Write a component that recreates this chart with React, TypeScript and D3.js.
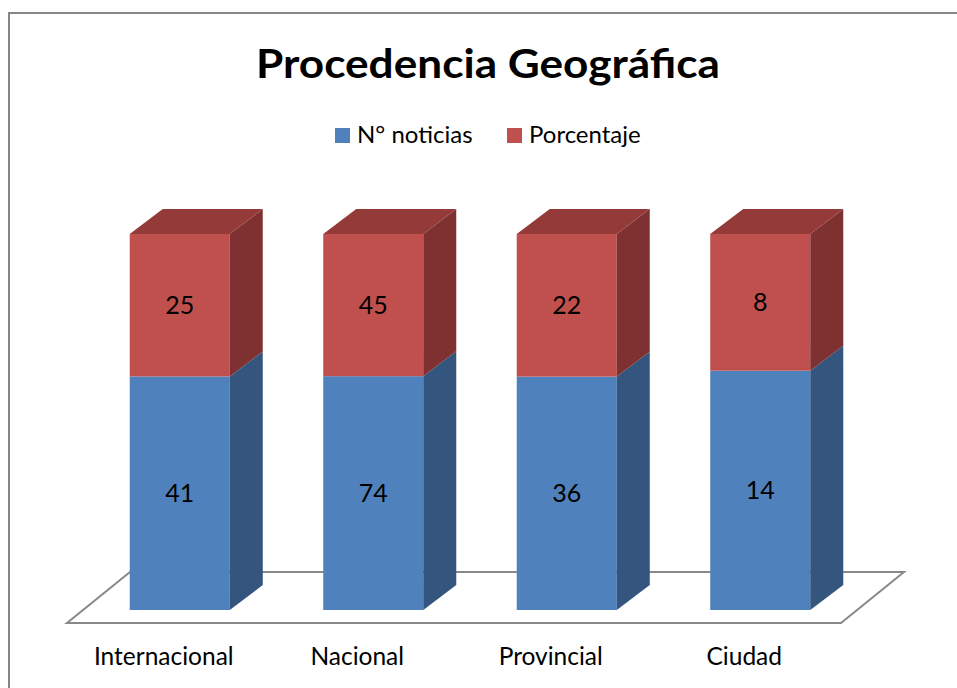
import React from "react";
import * as d3 from "d3";

const categories = ["Internacional", "Nacional", "Provincial", "Ciudad"];
const noticias = [41, 74, 36, 14];
const porcentaje = [25, 45, 22, 8];
const seriesNames = ["N° noticias", "Porcentaje"];

const W = 957;
const H = 688;
const FONT = "Lato, 'Open Sans', sans-serif";

// colours: front, side, top
const palette = [
  { front: "#4F81BD", side: "#34557D", top: "#3E6697" },
  { front: "#C0504D", side: "#7E3130", top: "#943A39" },
];

// 3d offsets for the bar depth and the floor
const DX = 33;
const DY = -25;
const FLOOR_FRONT = { dx: -16, dy: 13 };
const FLOOR_BACK = { dx: 47, dy: -38 };

export default function App() {
  const plotLeft = 83;
  const plotRight = 857;
  const base = 610;
  const top = 234;

  const x = d3
    .scaleBand<string>()
    .domain(categories)
    .range([plotLeft, plotRight])
    .paddingInner(0.483)
    .paddingOuter(0.2415);

  const y = d3.scaleLinear().domain([0, 1]).range([base, top]);

  const stackData = categories.map((c, i) => ({
    cat: c,
    s0: noticias[i],
    s1: porcentaje[i],
  }));
  const stacked = d3
    .stack<any>()
    .keys(["s0", "s1"])
    .offset(d3.stackOffsetExpand)(stackData);

  const pts = (arr: number[][]) => arr.map((p) => p.join(",")).join(" ");

  const floor = [
    [plotLeft + FLOOR_FRONT.dx, base + FLOOR_FRONT.dy],
    [plotRight + FLOOR_FRONT.dx, base + FLOOR_FRONT.dy],
    [plotRight + FLOOR_BACK.dx, base + FLOOR_BACK.dy],
    [plotLeft + FLOOR_BACK.dx, base + FLOOR_BACK.dy],
  ];

  const bw = x.bandwidth();

  return (
    <svg
      width={W}
      height={H}
      style={{ position: "absolute", left: 0, top: 0, background: "#fff" }}
    >
      <rect x={0} y={0} width={W} height={H} fill="#fff" />
      {/* chart border, runs off to the right and bottom */}
      <rect x={9} y={13} width={W + 20} height={H + 20} fill="none" stroke="#868686" strokeWidth={2} />

      <text
        x={256}
        y={78}
        textLength={464}
        lengthAdjust="spacingAndGlyphs"
        fontFamily={FONT}
        fontWeight="bold"
        fontSize={40}
        fill="#000"
      >
        Procedencia Geográfica
      </text>

      {/* legend */}
      <g fontFamily={FONT} fontSize={24} fill="#000">
        <rect x={335} y={128} width={15} height={15} fill={palette[0].front} />
        <text x={357} y={143}>{seriesNames[0]}</text>
        <rect x={507} y={128} width={15} height={15} fill={palette[1].front} />
        <text x={529} y={143}>{seriesNames[1]}</text>
      </g>

      {/* floor */}
      <polygon points={pts(floor)} fill="#fff" stroke="#898989" strokeWidth={2} />

      {/* bars */}
      {categories.map((c, ci) => {
        const x0 = x(c)!;
        const x1 = x0 + bw;
        return (
          <g key={c}>
            {stacked.map((layer, si) => {
              const [v0, v1] = layer[ci];
              const yb = y(v0);
              const yt = y(v1);
              const col = palette[si];
              const isTop = si === stacked.length - 1;
              return (
                <g key={si}>
                  <rect x={x0} y={yt} width={bw} height={yb - yt} fill={col.front} />
                  <polygon
                    points={pts([
                      [x1, yb],
                      [x1 + DX, yb + DY],
                      [x1 + DX, yt + DY],
                      [x1, yt],
                    ])}
                    fill={col.side}
                  />
                  {isTop && (
                    <polygon
                      points={pts([
                        [x0, yt],
                        [x1, yt],
                        [x1 + DX, yt + DY],
                        [x0 + DX, yt + DY],
                      ])}
                      fill={col.top}
                    />
                  )}
                  <text
                    x={x0 + bw / 2}
                    y={(yb + yt) / 2}
                    dy="0.36em"
                    textAnchor="middle"
                    fontFamily={FONT}
                    fontSize={25}
                    fill="#000"
                  >
                    {si === 0 ? noticias[ci] : porcentaje[ci]}
                  </text>
                </g>
              );
            })}
          </g>
        );
      })}

      {/* category labels */}
      {categories.map((c) => (
        <text
          key={c}
          x={x(c)! + bw / 2 + FLOOR_FRONT.dx}
          y={665}
          textAnchor="middle"
          fontFamily={FONT}
          fontSize={24.5}
          fill="#000"
        >
          {c}
        </text>
      ))}
    </svg>
  );
}
